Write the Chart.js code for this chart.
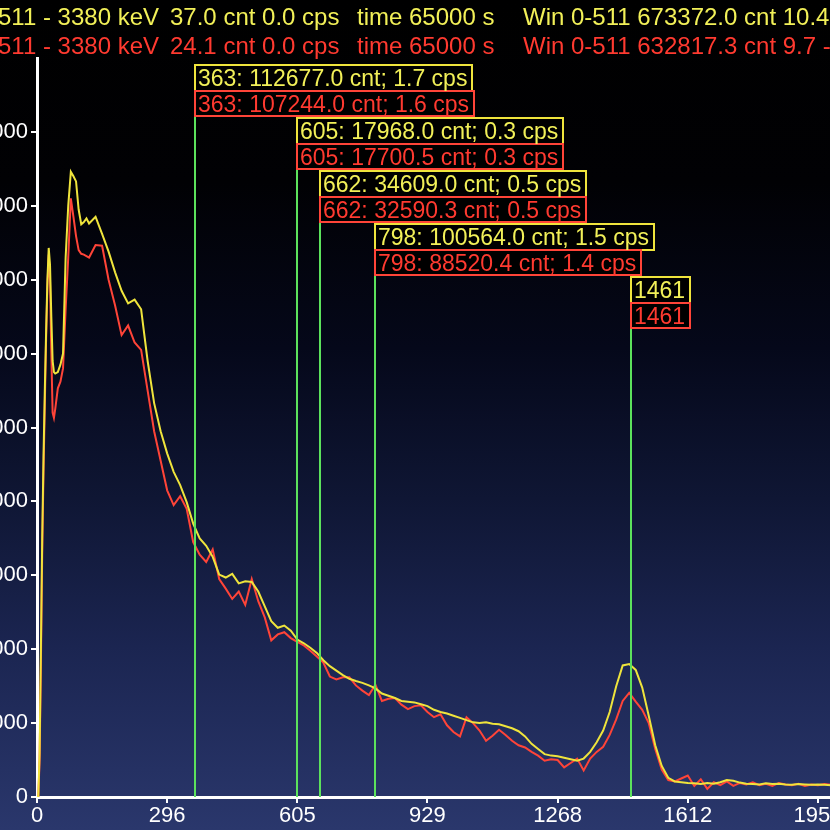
<!DOCTYPE html>
<html><head><meta charset="utf-8">
<script src="https://cdn.jsdelivr.net/npm/chart.js@4.4.0/dist/chart.umd.min.js"></script>
<style>
html,body{margin:0;padding:0;width:830px;height:830px;overflow:hidden;}
body{background:linear-gradient(180deg,#000000 0%,#010104 22%,#05081a 42%,#0f1634 60%,#1b2551 78%,#2a376c 100%);}
#wrap{position:absolute;left:-30px;top:0;width:900px;height:830px;}
</style></head><body>
<div id="wrap"><canvas id="c"></canvas></div>
<script>
// ---- data ----
const channels = [0,1,2,3,4,5,6,7,8,9,10,11,12,13,14,16,18,20,22,24,26,28,30,32,34,36,38,
40,45,50,55,60,65,70,75,80,85,
90,95,100,105,110,115,120,125,130,135,
140,145,150,155,160,165,170,175,180,185,
190,195,200,205,210,215,220,225,230,235,
240,245,250,255,260,265,270,275,280,285,
290,295,300,305,310,315,320,325,330,335,
340,345,350,355,360,365,370,375,380,385,
390,395,400,405,410,415,420,425,430,435,
440,445,450,455,460,465,470,475,480,485,
490,495,500,505,510,515,520,525,530,535,
540,545,550,555,560,565,570,575,580,585,
590,595,600,605,610];

const yellowCounts = [0,0,600,2000,3500,4600,5500,6300,7000,7430,7200,6500,5900,5750,5730,
5750,5850,6000,7300,8000,8460,8400,8330,7950,7750,7780,7830,
7760,7850,7620,7380,7100,6850,6680,6730,6600,5900,
5330,4950,4650,4400,4220,3990,3700,3500,3400,3250,
3010,2970,3020,2890,2920,2910,2780,2580,2380,2290,
2320,2250,2130,2080,2020,1950,1850,1770,1710,1650,
1600,1570,1545,1510,1470,1400,1370,1340,1300,1290,
1280,1255,1230,1180,1150,1130,1100,1070,1040,1010,
1000,1010,990,985,957,930,890,820,720,650,
580,560,550,530,510,490,520,610,740,900,
1150,1500,1780,1800,1720,1480,1100,700,420,260,
210,200,190,185,175,190,180,200,230,220,
195,180,175,170,185,175,180,170,165,175,
170,165,170,165,160];

const redCounts = [0,0,500,1800,3300,4400,5300,6200,6900,7340,7000,6000,5200,5130,5250,
5530,5620,5800,6600,7300,8100,7850,7590,7400,7350,7340,7320,
7300,7470,7460,7000,6650,6250,6380,6150,6050,5500,
4950,4550,4150,3950,4070,3900,3450,3280,3180,3350,
2950,2820,2680,2780,2600,2950,2650,2430,2120,2200,
2230,2150,2100,2050,1980,1900,1820,1630,1590,1620,
1620,1510,1440,1380,1520,1300,1330,1340,1250,1190,
1230,1240,1150,1080,1120,970,880,820,1080,1000,
900,760,830,910,840,760,700,670,610,560,
490,510,500,400,460,520,360,520,610,680,
840,1050,1300,1410,1290,1180,1000,650,370,230,
210,250,290,150,240,110,200,160,210,150,
190,170,200,160,180,150,190,170,160,180,
150,170,160,175,165];

const xTickChannels = [0,100,200,300,400,500,600];
const xTickLabels = ['0','296','605','929','1268','1612','1956'];
const yTickValues = [0,1000,2000,3000,4000,5000,6000,7000,8000,9000];

const peakEnergies = [363,605,662,798,1461];
const peakYellowCnt = ['112677.0','17968.0','34609.0','100564.0',null];
const peakYellowCps = ['1.7','0.3','0.5','1.5',null];
const peakRedCnt = ['107244.0','17700.5','32590.3','88520.4',null];
const peakRedCps = ['1.6','0.3','0.5','1.4',null];

const headerYellow = ['511 - 3380 keV','37.0 cnt 0.0 cps','time 65000 s','Win 0-511 673372.0 cnt 10.4'];
const headerRed = ['511 - 3380 keV','24.1 cnt 0.0 cps','time 65000 s','Win 0-511 632817.3 cnt 9.7 -'];

// ---- styles ----
const YEL = '#efe43c', RED = '#ff4438', GRN = '#5ce25c';
const HY = '#f2f058', HR = '#ff3a30';
const FONT = '"Liberation Sans", Arial, sans-serif';

const calE = xTickLabels.map(Number);
function energyToChannel(E){
  for(let i=0;i<calE.length-1;i++){
    if(E>=calE[i] && E<=calE[i+1]){
      return xTickChannels[i] + (E-calE[i])/(calE[i+1]-calE[i])*(xTickChannels[i+1]-xTickChannels[i]);
    }
  }
  return xTickChannels[xTickChannels.length-1];
}
function peakLabel(E,cnt,cps){ return cnt==null ? String(E) : `${E}: ${cnt} cnt; ${cps} cps`; }

const peakPlugin = {
  id:'peaks',
  afterDatasetsDraw(chart){
    const {ctx, chartArea, scales:{x}} = chart;
    ctx.save();
    ctx.font = '23px ' + FONT;
    ctx.textBaseline = 'alphabetic';
    ctx.lineWidth = 2;
    peakEnergies.forEach((E,i)=>{
      const px = Math.round(x.getPixelForValue(energyToChannel(E)));
      const top = chartArea.top + 7 + i*53;
      const yl = peakLabel(E,peakYellowCnt[i],peakYellowCps[i]);
      const rl = peakLabel(E,peakRedCnt[i],peakRedCps[i]);
      const yw = Math.round(ctx.measureText(yl).width + 8);
      const rw = Math.round(ctx.measureText(rl).width + 8);
      ctx.strokeStyle = GRN;
      ctx.beginPath(); ctx.moveTo(px, top+51); ctx.lineTo(px, chartArea.bottom); ctx.stroke();
      ctx.fillStyle = '#000';
      ctx.fillRect(px, top, yw, 26);
      ctx.fillRect(px, top+26, rw, 25);
      ctx.strokeStyle = YEL; ctx.strokeRect(px, top, yw, 26);
      ctx.strokeStyle = RED; ctx.strokeRect(px, top+26, rw, 25);
      ctx.fillStyle = HY; ctx.fillText(yl, px+3, top+21);
      ctx.fillStyle = HR; ctx.fillText(rl, px+3, top+47);
    });
    ctx.restore();
  },
  afterDraw(chart){
    const ctx = chart.ctx;
    const segX = [-2,170,357,523];
    const off = 30;
    ctx.save();
    ctx.font = '24px ' + FONT;
    ctx.textBaseline = 'alphabetic';
    headerYellow.forEach((t,i)=>{ ctx.fillStyle = HY; ctx.fillText(t, segX[i]+off, 25); });
    headerRed.forEach((t,i)=>{ ctx.fillStyle = HR; ctx.fillText(t, segX[i]+off, 54); });
    ctx.restore();
  }
};

const tickFont = {family: FONT, size: 22};
new Chart(document.getElementById('c'), {
  type: 'line',
  data: {
    datasets: [
      {label:'yellow', data: channels.map((c,i)=>({x:c,y:yellowCounts[i]})), borderColor: YEL, borderWidth: 2, pointRadius: 0, tension: 0, fill: false},
      {label:'red', data: channels.map((c,i)=>({x:c,y:redCounts[i]})), borderColor: RED, borderWidth: 2, pointRadius: 0, tension: 0, fill: false}
    ]
  },
  options: {
    responsive: true, maintainAspectRatio: false, animation: false,
    layout: {padding: {top: 58, left: 0, right: 0, bottom: 0}},
    plugins: {legend: {display: false}, tooltip: {enabled: false}, title: {display: false}},
    scales: {
      x: {
        type: 'linear', min: 0, max: 640,
        afterBuildTicks: s => { s.ticks = xTickChannels.map(v => ({value: v})); },
        afterFit: s => { s.height = 33; },
        ticks: {color: '#ffffff', font: tickFont, padding: 0, maxRotation: 0, autoSkip: false,
          callback: v => { const i = xTickChannels.indexOf(v); return i >= 0 ? xTickLabels[i] : ''; }},
        grid: {drawOnChartArea: false, drawTicks: true, tickLength: 6, color: '#ffffff', lineWidth: 2},
        border: {display: true, color: '#ffffff', width: 3}
      },
      y: {
        type: 'linear', min: 0, max: 10000,
        afterBuildTicks: s => { s.ticks = yTickValues.map(v => ({value: v})); },
        afterFit: s => { s.width = 67; },
        ticks: {color: '#ffffff', font: tickFont, padding: 3, autoSkip: false, callback: v => String(v)},
        grid: {drawOnChartArea: false, drawTicks: true, tickLength: 6, color: '#ffffff', lineWidth: 2},
        border: {display: true, color: '#ffffff', width: 3}
      }
    }
  },
  plugins: [peakPlugin]
});
</script>
</body></html>
